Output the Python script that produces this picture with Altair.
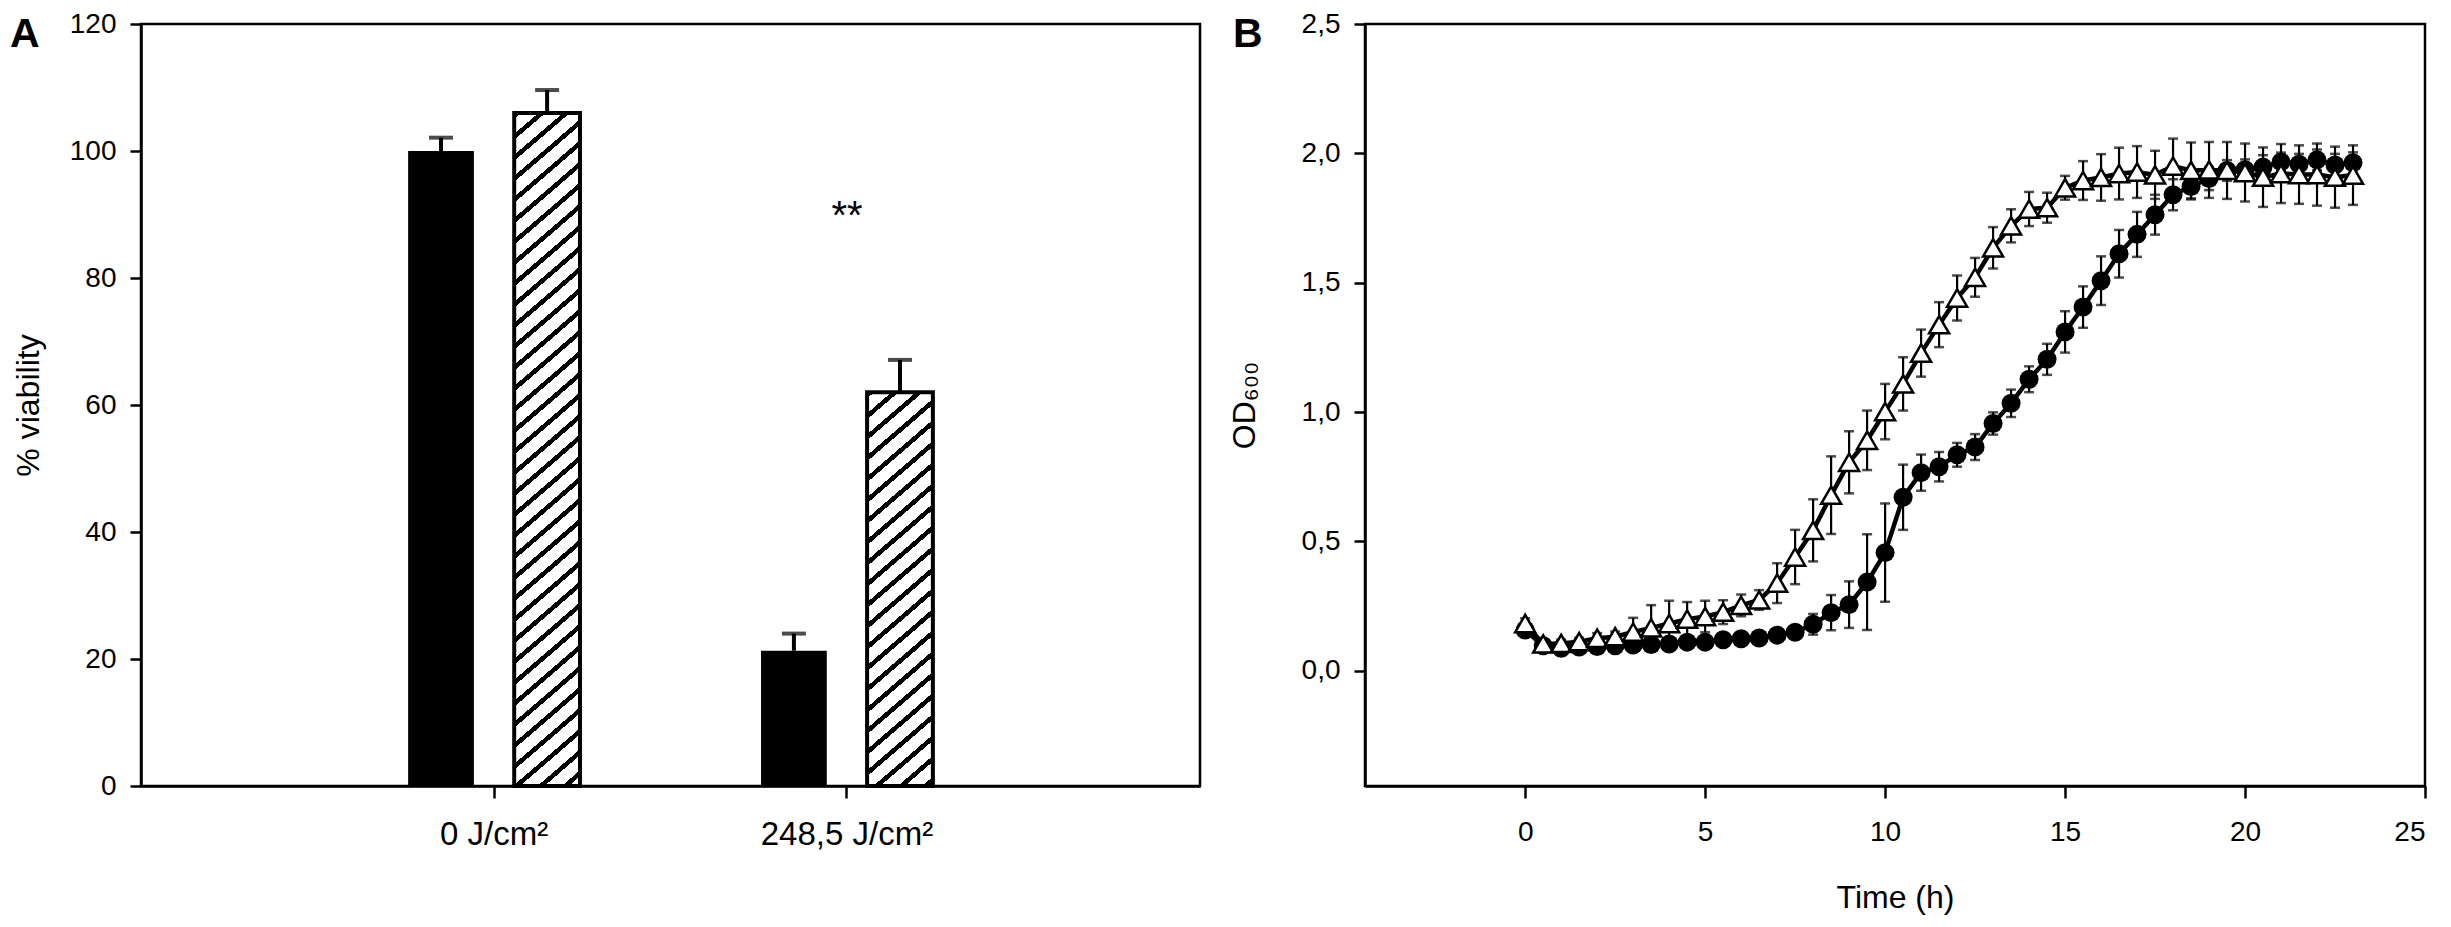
import altair as alt
import pandas as pd

FONT = "Liberation Sans"

# ---------------- Panel A data ----------------
dose = ["0 J/cm²", "248,5 J/cm²"]
groups = ["solid", "hatched"]
solid_mean = [100.0, 21.3]
solid_err = [2.1, 2.7]
hatch_mean = [106.0, 62.0]
hatch_err = [3.6, 5.1]
sig_dose = ["248,5 J/cm²"]
sig_y = [90]
sig_text = ["**"]
panel_labels = ["A", "B"]

# ---------------- Panel B data ----------------
time_h = [0, 0.5, 1, 1.5, 2, 2.5, 3, 3.5, 4, 4.5, 5, 5.5, 6, 6.5, 7, 7.5, 8, 8.5,
          9, 9.5, 10, 10.5, 11, 11.5, 12, 12.5, 13, 13.5, 14, 14.5, 15, 15.5, 16,
          16.5, 17, 17.5, 18, 18.5, 19, 19.5, 20, 20.5, 21, 21.5, 22, 22.5, 23]
tri_mean = [0.183, 0.104, 0.106, 0.113, 0.126, 0.132, 0.150, 0.166, 0.183, 0.200,
            0.210, 0.227, 0.253, 0.274, 0.339, 0.440, 0.543, 0.679, 0.806, 0.891,
            1.002, 1.109, 1.228, 1.338, 1.441, 1.521, 1.635, 1.720, 1.785, 1.790,
            1.867, 1.895, 1.907, 1.922, 1.928, 1.917, 1.951, 1.934, 1.936, 1.934,
            1.926, 1.908, 1.922, 1.918, 1.918, 1.908, 1.916]
tri_err = [0.020, 0.015, 0.015, 0.015, 0.020, 0.020, 0.055, 0.088, 0.088, 0.066,
           0.061, 0.046, 0.042, 0.038, 0.077, 0.105, 0.120, 0.150, 0.120, 0.115,
           0.107, 0.103, 0.091, 0.087, 0.087, 0.075, 0.080, 0.064, 0.066, 0.058,
           0.046, 0.075, 0.090, 0.100, 0.100, 0.093, 0.106, 0.108, 0.108, 0.110,
           0.112, 0.115, 0.114, 0.113, 0.120, 0.118, 0.115]
circ_mean = [0.158, 0.097, 0.087, 0.092, 0.094, 0.097, 0.100, 0.102, 0.104, 0.111,
             0.111, 0.120, 0.124, 0.127, 0.138, 0.149, 0.180, 0.225, 0.256, 0.343,
             0.457, 0.671, 0.766, 0.789, 0.835, 0.865, 0.956, 1.034, 1.127, 1.204,
             1.310, 1.406, 1.508, 1.612, 1.687, 1.763, 1.840, 1.872, 1.903, 1.934,
             1.937, 1.947, 1.967, 1.958, 1.975, 1.955, 1.964]
circ_err = [0.015, 0.010, 0.010, 0.010, 0.010, 0.010, 0.012, 0.012, 0.012, 0.012,
            0.012, 0.015, 0.015, 0.015, 0.018, 0.020, 0.040, 0.068, 0.090, 0.185,
            0.190, 0.126, 0.070, 0.057, 0.046, 0.050, 0.043, 0.053, 0.050, 0.060,
            0.080, 0.080, 0.094, 0.092, 0.087, 0.077, 0.060, 0.050, 0.045, 0.040,
            0.040, 0.046, 0.036, 0.040, 0.040, 0.043, 0.040]

# ---------------- layout / style constants ----------------
A_W, A_H = 1059, 762
B_W, B_H = 1060, 762
A_YMAX = 120
BAR_W_PX = 65.8


def hatch_fill(h_px, w_px=BAR_W_PX, slope=0.86, period=21.0, line=6.0):
    """Diagonal hatch as a hard-stop linear gradient in bounding-box units."""
    M = slope * w_px + h_px
    s = M / (slope ** 2 * w_px ** 2 + h_px ** 2)
    stops = []
    k = 0
    while k * period < M:
        a = k * period / M
        b = min((k * period + line) / M, 1.0)
        c = min((k + 1) * period / M, 1.0)
        stops += [{"offset": a, "color": "black"}, {"offset": b, "color": "black"},
                  {"offset": b, "color": "white"}, {"offset": c, "color": "white"}]
        k += 1
    return {"gradient": "linear", "x1": 0, "y1": 0,
            "x2": slope * w_px * s, "y2": h_px * s, "stops": stops}


def panel_letter(letter, dx):
    return alt.Chart(pd.DataFrame({"label": [letter]})).mark_text(
        font=FONT, fontSize=41, fontWeight="bold", color="black",
        align="left", baseline="alphabetic"
    ).encode(x=alt.value(dx), y=alt.value(23), text="label:N")


# ---------------- Panel A ----------------
rows = []
for i, d in enumerate(dose):
    rows.append({"dose": d, "group": "solid", "mean": solid_mean[i],
                 "upper": solid_mean[i] + solid_err[i]})
    rows.append({"dose": d, "group": "hatched", "mean": hatch_mean[i],
                 "upper": hatch_mean[i] + hatch_err[i]})
df_a = pd.DataFrame(rows)
df_sig = pd.DataFrame({"dose": sig_dose, "y": sig_y, "text": sig_text})

x_scale_a = alt.Scale(paddingInner=0.513, paddingOuter=0.757)
x_axis_a = alt.Axis(title=None, labelAngle=0, tickSize=12, labelPadding=20,
                    labelFontSize=33)
x_a = alt.X("dose:N", sort=dose, scale=x_scale_a, axis=x_axis_a)
xo_a = alt.XOffset("group:N", sort=groups,
                   scale=alt.Scale(paddingInner=0.38, paddingOuter=0))
y_axis_a = alt.Axis(values=[0, 20, 40, 60, 80, 100, 120], title="% viability",
                    tickSize=11, labelPadding=14, titlePadding=24)
y_scale_a = alt.Scale(domain=[0, A_YMAX], nice=False)


def ya(field):
    return alt.Y(field, scale=y_scale_a, axis=y_axis_a)


base_a = alt.Chart(df_a)
bars_solid = base_a.mark_bar(color="black").encode(
    x=x_a, xOffset=xo_a, y=ya("mean:Q")
).transform_filter(alt.datum.group == "solid")

hatch_layers = []
for i, d in enumerate(dose):
    h_px = hatch_mean[i] * A_H / A_YMAX
    hatch_layers.append(
        base_a.mark_bar(fill=hatch_fill(h_px), stroke="black", strokeWidth=4).encode(
            x=x_a, xOffset=xo_a, y=ya("mean:Q")
        ).transform_filter((alt.datum.group == "hatched") & (alt.datum.dose == d))
    )

err_rule_a = base_a.mark_rule(color="black", strokeWidth=4).encode(
    x=x_a, xOffset=xo_a, y=ya("mean:Q"), y2="upper:Q")
err_cap_a = base_a.mark_tick(color="black", orient="horizontal", size=24,
                             thickness=4).encode(
    x=x_a, xOffset=xo_a, y=ya("upper:Q"))
sig = alt.Chart(df_sig).mark_text(fontSize=40, font=FONT, color="black", dy=2).encode(
    x=alt.X("dose:N", sort=dose, scale=x_scale_a, axis=x_axis_a),
    y=ya("y:Q"), text="text:N")

chart_a = alt.layer(bars_solid, *hatch_layers, err_rule_a, err_cap_a, sig,
                    panel_letter(panel_labels[0], -131)).properties(
    width=A_W, height=A_H)

# ---------------- Panel B ----------------
rows_b = []
for i, t in enumerate(time_h):
    rows_b.append({"time": t, "series": "circle", "od": circ_mean[i],
                   "lo": circ_mean[i] - circ_err[i], "hi": circ_mean[i] + circ_err[i]})
for i, t in enumerate(time_h):
    rows_b.append({"time": t, "series": "triangle", "od": tri_mean[i],
                   "lo": tri_mean[i] - tri_err[i], "hi": tri_mean[i] + tri_err[i]})
df_b = pd.DataFrame(rows_b)

x_b = alt.X("time:Q", scale=alt.Scale(domain=[-4.45, 25], nice=False, zero=False),
            axis=alt.Axis(values=[0, 5, 10, 15, 20, 25], format="d", title="Time (h)",
                          tickSize=12, labelPadding=20, titlePadding=36))
y_scale_b = alt.Scale(domain=[-0.445, 2.5], nice=False, zero=False)
y_axis_b = alt.Axis(values=[0, 0.5, 1, 1.5, 2, 2.5],
                    labelExpr="replace(format(datum.value, '.1f'), '.', ',')",
                    title="OD₆₀₀", tickSize=11, labelPadding=14, titlePadding=40)


def yb(field):
    return alt.Y(field, scale=y_scale_b, axis=y_axis_b)


base_b = alt.Chart(df_b)
err_b = base_b.mark_rule(color="black", strokeWidth=2.2).encode(
    x=x_b, y=yb("lo:Q"), y2="hi:Q")
cap_hi = base_b.mark_tick(color="black", orient="horizontal", size=10, thickness=2.5).encode(
    x=x_b, y=yb("hi:Q"))
cap_lo = base_b.mark_tick(color="black", orient="horizontal", size=10, thickness=2.5).encode(
    x=x_b, y=yb("lo:Q"))
lines_b = base_b.mark_line(color="black", strokeWidth=4.5).encode(
    x=x_b, y=yb("od:Q"), detail="series:N")
circles = base_b.mark_point(shape="circle", filled=True, color="black", size=360,
                            opacity=1).encode(
    x=x_b, y=yb("od:Q")).transform_filter(alt.datum.series == "circle")
triangles = base_b.mark_point(shape="triangle-up", filled=True, fill="white",
                              stroke="black", strokeWidth=2.5, size=400,
                              opacity=1).encode(
    x=x_b, y=yb("od:Q")).transform_filter(alt.datum.series == "triangle")

chart_b = alt.layer(err_b, cap_hi, cap_lo, lines_b, circles, triangles,
                    panel_letter(panel_labels[1], -132)).properties(
    width=B_W, height=B_H)

chart = alt.hconcat(chart_a, chart_b, spacing=24).configure_view(
    stroke="black", strokeWidth=2.5
).configure_axis(
    domainColor="black", domainWidth=2.5, tickColor="black", tickWidth=2.5,
    labelColor="black", titleColor="black", labelFont=FONT, titleFont=FONT,
    labelFontSize=28, titleFontSize=32, titleFontWeight="normal", grid=False
).properties(padding=0, background="white")

chart.save("out.html", embed_options={"renderer": "svg", "actions": False})
